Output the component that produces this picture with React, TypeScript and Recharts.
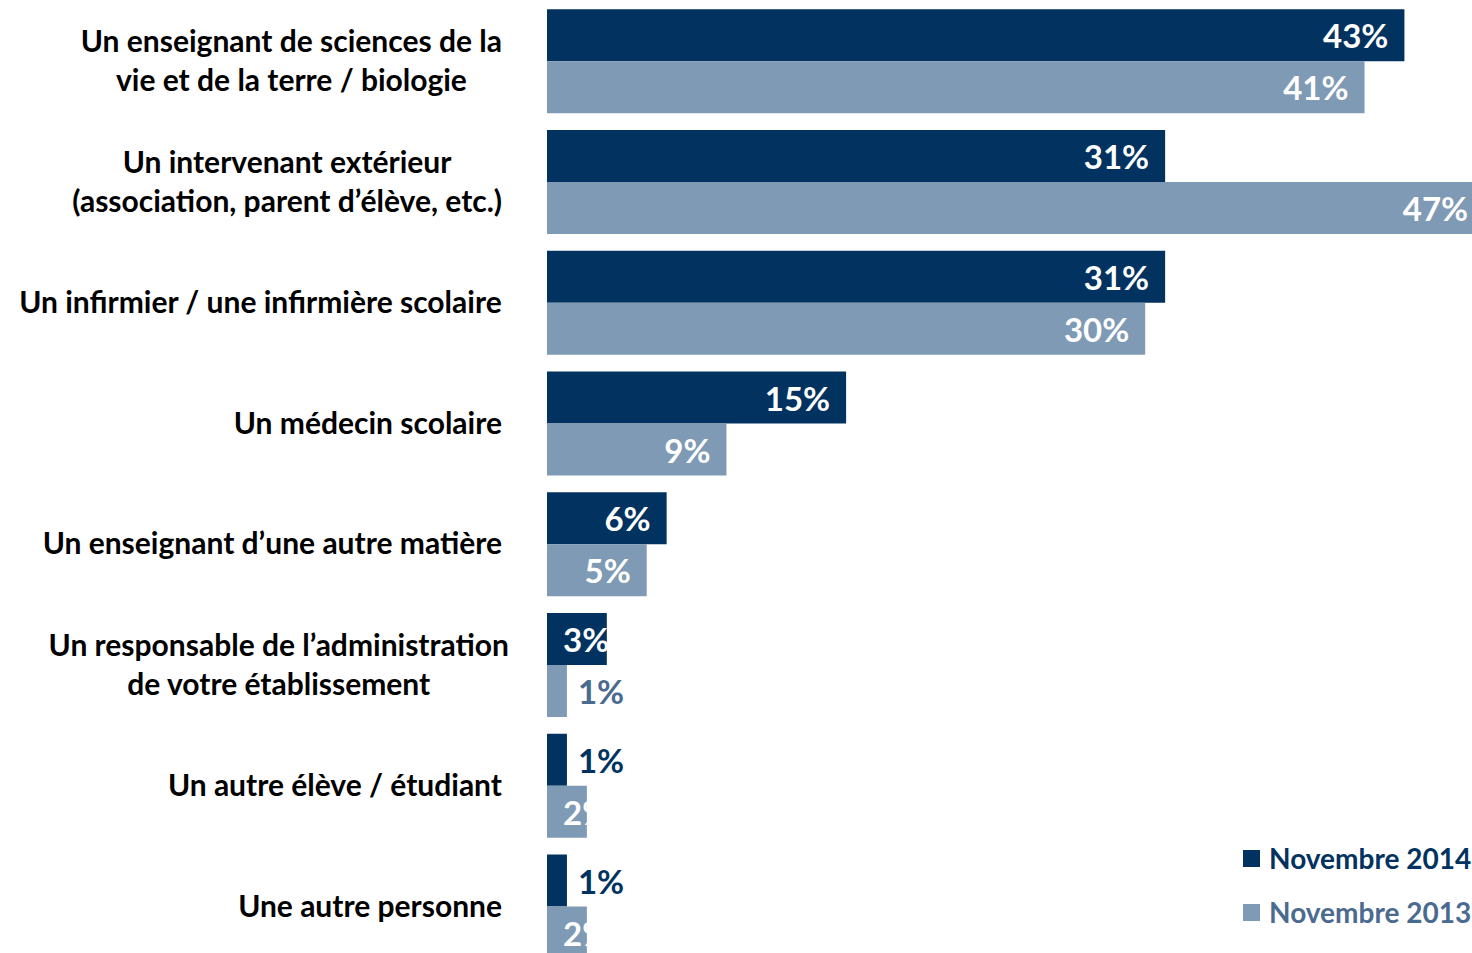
import { BarChart, Bar, XAxis, YAxis, Legend, LabelList } from 'recharts';

const categories = [
  'Un enseignant de sciences de la\nvie et de la terre / biologie',
  'Un intervenant extérieur\n(association, parent d’élève, etc.)',
  'Un infirmier / une infirmière scolaire',
  'Un médecin scolaire',
  'Un enseignant d’une autre matière',
  'Un responsable de l’administration\nde votre établissement',
  'Un autre élève / étudiant',
  'Une autre personne',
];
const nov2014 = [43, 31, 31, 15, 6, 3, 1, 1];
const nov2013 = [41, 47, 30, 9, 5, 1, 2, 2];

const seriesNames = ['Novembre 2014', 'Novembre 2013'];
const DARK = '#02325f';
const LIGHT = '#7f9ab4';
const LIGHT_TEXT = '#4a6a8f';
const FONT = 'Lato, "Open Sans", sans-serif';

const data = categories.map((name, i) => ({
  name,
  nov2014: nov2014[i],
  nov2013: nov2013[i],
}));

let ctx: CanvasRenderingContext2D | null = null;
function measure(text: string, font: string) {
  if (!ctx) ctx = document.createElement('canvas').getContext('2d');
  if (!ctx) return text.length * 15;
  ctx.font = font;
  return ctx.measureText(text).width;
}

const LABEL_SIZE = 30;
const VALUE_SIZE = 33;

function CategoryTick(props: any) {
  const { y, payload } = props;
  const lines: string[] = String(payload.value).split('\n');
  const font = `bold ${LABEL_SIZE}px Lato`;
  const widest = Math.max(...lines.map((l) => measure(l, font)));
  const right = lines.length > 1 && widest > 450 ? 509 : 502;
  const cx = right - widest / 2;
  const lh = 39;
  const top = y - 2 - ((lines.length - 1) * lh) / 2;
  return (
    <text
      textAnchor="middle"
      fontFamily={FONT}
      fontWeight="bold"
      fontSize={LABEL_SIZE}
      fill="#000"
    >
      {lines.map((l, i) => (
        <tspan key={i} x={cx} y={top + i * lh} dominantBaseline="central">
          {l}
        </tspan>
      ))}
    </text>
  );
}

const valueLabel = (outside: string) => (props: any) => {
  const { x, y, width, height, value } = props;
  const cy = y + height / 2;
  const txt = `${value}%`;
  if (value <= 1) {
    return (
      <text x={x + width + 11} y={cy} dominantBaseline="central" fill={outside}
        fontFamily={FONT} fontWeight="bold" fontSize={VALUE_SIZE}>
        {txt}
      </text>
    );
  }
  const w = measure(txt, `bold ${VALUE_SIZE}px Lato`);
  const left = Math.max(x + 16, x + width - 16 - w);
  return (
    <text x={left} y={cy} dominantBaseline="central" fill="#fff"
      fontFamily={FONT} fontWeight="bold" fontSize={VALUE_SIZE}>
      {txt}
    </text>
  );
};

function LegendBox() {
  const items = [
    { label: seriesNames[0], box: DARK, text: DARK },
    { label: seriesNames[1], box: LIGHT, text: LIGHT_TEXT },
  ];
  return (
    <div style={{ fontFamily: FONT, fontWeight: 'bold', fontSize: 28, whiteSpace: 'nowrap' }}>
      {items.map((it) => (
        <div key={it.label} style={{ display: 'flex', alignItems: 'center', height: 54 }}>
          <span style={{ width: 17, height: 17, background: it.box, marginRight: 9, display: 'inline-block' }} />
          <span style={{ color: it.text }}>{it.label}</span>
        </div>
      ))}
    </div>
  );
}

export default function App() {
  return (
    <div style={{ position: 'absolute', left: 0, top: 0, width: 1472, height: 953, overflow: 'hidden', background: '#fff' }}>
      <BarChart
        width={1560}
        height={967}
        data={data}
        layout="vertical"
        margin={{ top: 1, right: 16, left: 0, bottom: 0 }}
        barCategoryGap={8.35}
        barGap={0}
      >
        <XAxis type="number" domain={[0, 50]} hide />
        <YAxis
          type="category"
          dataKey="name"
          width={547}
          axisLine={false}
          tickLine={false}
          tick={<CategoryTick />}
          interval={0}
        />
        <Legend
          layout="horizontal"
          verticalAlign="middle"
          align="center"
          content={<LegendBox />}
          wrapperStyle={{ left: 1243, top: 831, width: 320, height: 110 }}
        />
        <Bar dataKey="nov2014" name={seriesNames[0]} fill={DARK} isAnimationActive={false}>
          <LabelList dataKey="nov2014" content={valueLabel(DARK)} />
        </Bar>
        <Bar dataKey="nov2013" name={seriesNames[1]} fill={LIGHT} isAnimationActive={false}>
          <LabelList dataKey="nov2013" content={valueLabel(LIGHT_TEXT)} />
        </Bar>
      </BarChart>
    </div>
  );
}
